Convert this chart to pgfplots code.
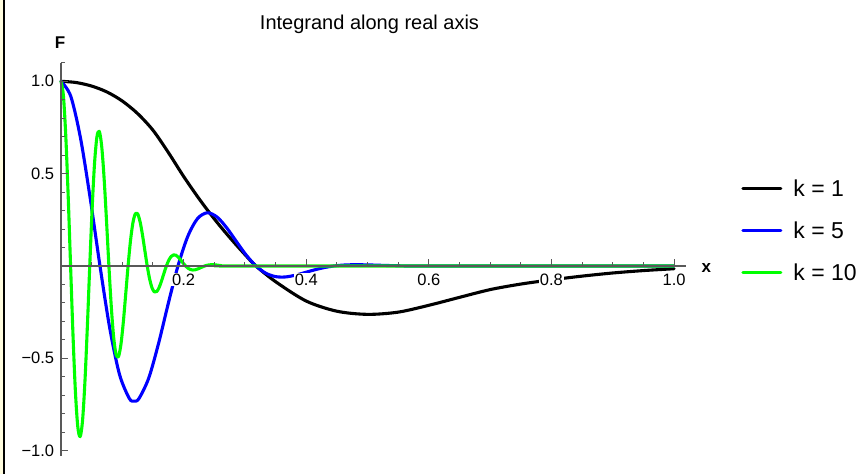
\documentclass[border=0pt]{standalone}
\usepackage{pgfplots}
\pgfplotsset{compat=1.18}
\usepackage{fontspec}
\setmainfont{Liberation Sans}
\definecolor{axgray}{gray}{0.35}
\definecolor{paleyellow}{RGB}{255,252,222}
\begin{document}
\begin{tikzpicture}
\useasboundingbox (0pt,0pt) rectangle (864pt,474pt);
\fill[paleyellow] (0pt,0pt) rectangle (3.3pt,474pt);
\fill[black] (3.3pt,0pt) rectangle (5.3pt,474pt);
\begin{axis}[
  at={(61pt,17.8pt)}, anchor=south west,
  scale only axis, width=625.3pt, height=393.4pt,
  xmin=0, xmax=1.02, ymin=-1.03, ymax=1.1,
  axis lines=middle, axis on top,
  axis line style={axgray, line width=1.1pt, -},
  every tick/.style={axgray, line width=1pt},
  tick align=inside,
  major tick length=7pt, minor tick length=4pt,
  xtick={0.2,0.4,0.6,0.8,1.0}, xticklabels={0.2,0.4,0.6,0.8,1.0},
  minor xtick={0.05,0.1,0.15,0.25,0.3,0.35,0.45,0.5,0.55,0.65,0.7,0.75,0.85,0.9,0.95},
  ytick={-1,-0.5,0.5,1}, yticklabels={−1.0,−0.5,0.5,1.0},
  minor ytick={-0.9,-0.8,-0.7,-0.6,-0.4,-0.3,-0.2,-0.1,0.1,0.2,0.3,0.4,0.6,0.7,0.8,0.9,1.1},
  tick label style={font=\fontsize{16.5}{19}\selectfont, fill=white, inner sep=1pt},
  xticklabel style={anchor=north, yshift=-6.5pt},
  yticklabel style={anchor=east, xshift=-5.7pt},
  xlabel={\textbf{x}}, ylabel={\textbf{F}},
  every axis x label/.style={at={(axis cs:1.02,0)}, anchor=west, inner sep=0pt, xshift=15pt, yshift=-2pt, font=\fontsize{17}{20}\selectfont},
  every axis y label/.style={at={(axis cs:0,1.1)}, anchor=south, inner sep=0pt, yshift=14.4pt, xshift=-1pt, font=\fontsize{17}{20}\selectfont},
  legend style={at={(axis cs:1.1093,0.191)}, anchor=west, draw=none, fill=none, inner sep=0pt,
    font=\fontsize{23}{27}\selectfont, row sep=20pt, nodes={inner sep=2pt},
    /tikz/every odd column/.append style={column sep=9pt}},
  legend cell align=left,
  legend image code/.code={\draw[#1, line width=3.2pt] (0pt,0pt) -- (38pt,0pt);},
  every axis plot/.append style={line width=3.1pt, line join=round, line cap=round},
  clip=false,
]
\addplot[black, smooth] coordinates {
(0,1.000) (0.025,0.993) (0.05,0.974) (0.075,0.942) (0.10,0.893) (0.125,0.825) (0.15,0.735) (0.175,0.615) (0.20,0.485) (0.225,0.365) (0.25,0.255) (0.275,0.155) (0.30,0.062) (0.318,0.0) (0.35,-0.085) (0.40,-0.19) (0.45,-0.245) (0.50,-0.262) (0.55,-0.25) (0.60,-0.213) (0.65,-0.17) (0.70,-0.128) (0.75,-0.098) (0.80,-0.075) (0.85,-0.055) (0.90,-0.038) (0.95,-0.025) (1.0,-0.015)
};
\addlegendentry{k = 1}
\addplot[blue, smooth] coordinates {
(0,1) (0.0159,0.9191) (0.0318,0.6926) (0.0477,0.3653) (0.0636,0) (0.0795,-0.3362) (0.0954,-0.5868) (0.1113,-0.7167) (0.1193,-0.732) (0.1272,-0.7177) (0.1431,-0.6072) (0.1590,-0.4211) (0.1749,-0.2044) (0.1908,0) (0.2067,0.1594) (0.2226,0.2561) (0.2385,0.2879) (0.2544,0.2654) (0.2703,0.2066) (0.2862,0.1319) (0.3021,0.0589) (0.3180,0) (0.3339,-0.0389) (0.3498,-0.0576) (0.3657,-0.0596) (0.3816,-0.0505) (0.3975,-0.0362) (0.4134,-0.0213) (0.4293,-0.0088) (0.4452,0) (0.4611,0.0049) (0.4770,0.0067) (0.4929,0.0063) (0.5088,0.0050) (0.5247,0.0033) (0.5406,0.0018) (0.5565,0.0007) (0.5724,0) (0.8,0) (1.0,0)
};
\addlegendentry{k = 5}
\addplot[green, smooth] coordinates {
(0,1) (0.00391,0.9228) (0.00781,0.7036) (0.01172,0.3785) (0.01563,0) (0.01954,-0.3710) (0.02344,-0.6763) (0.02735,-0.8696) (0.03126,-0.9239) (0.03517,-0.8358) (0.03907,-0.6248) (0.04298,-0.3295) (0.04689,0) (0.05080,0.3105) (0.05470,0.5549) (0.05861,0.6995) (0.06252,0.7286) (0.06643,0.6463) (0.07033,0.4737) (0.07424,0.2449) (0.07815,0) (0.08206,-0.2218) (0.08596,-0.3886) (0.08987,-0.4803) (0.09378,-0.4905) (0.09769,-0.4265) (0.10159,-0.3065) (0.10550,-0.1554) (0.10941,0) (0.11331,0.1353) (0.11722,0.2323) (0.12113,0.2815) (0.12504,0.2819) (0.12894,0.2403) (0.13285,0.1693) (0.13676,0.0841) (0.14067,0) (0.14457,-0.0704) (0.14848,-0.1186) (0.15239,-0.1408) (0.15630,-0.1382) (0.16020,-0.1155) (0.16411,-0.0798) (0.16802,-0.0389) (0.17193,0) (0.17583,0.0313) (0.17974,0.0516) (0.18365,0.0601) (0.18756,0.0579) (0.19146,0.0474) (0.19537,0.0321) (0.19928,0.0153) (0.20318,0) (0.20709,-0.0119) (0.21100,-0.0192) (0.21491,-0.0219) (0.21881,-0.0207) (0.22272,-0.0166) (0.22663,-0.0110) (0.23054,-0.0052) (0.23444,0) (0.23835,0.0038) (0.24226,0.0061) (0.24617,0.0068) (0.25007,0.0063) (0.25398,0.0050) (0.25789,0.0032) (0.26180,0.0015) (0.26570,0) (0.5,0) (1.0,0)
};
\addlegendentry{k = 10}
\end{axis}
\node[anchor=base, font=\fontsize{20}{24}\selectfont, inner sep=0pt] at (369.5pt,444.7pt) {Integrand along real axis};
\end{tikzpicture}
\end{document}
